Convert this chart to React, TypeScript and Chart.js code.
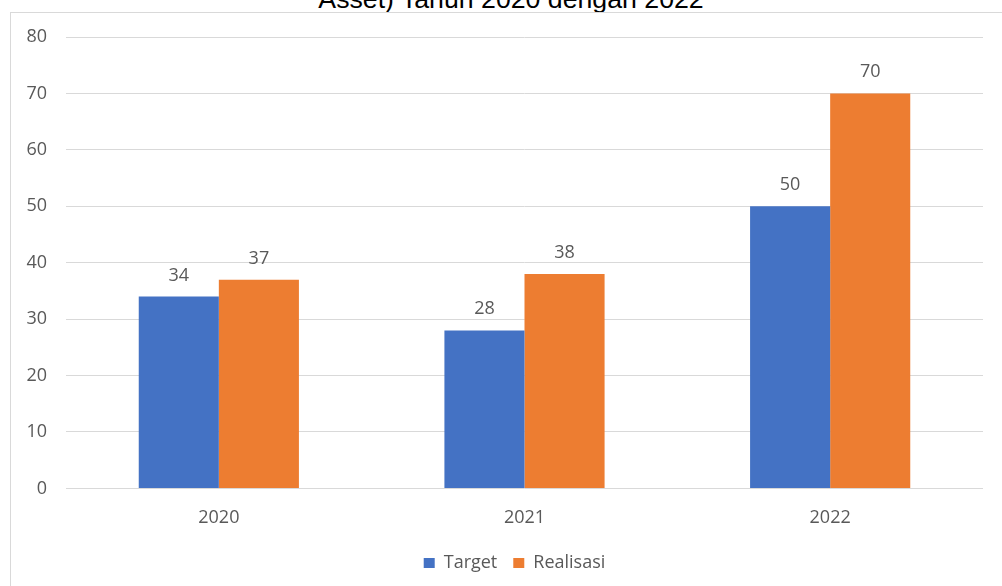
import React, { useEffect, useRef } from "react";
import { Chart, registerables } from "chart.js";

Chart.register(...registerables);

const categories = ["2020", "2021", "2022"];
const targetValues = [34, 28, 50];
const realisasiValues = [37, 38, 70];
const seriesNames = ["Target", "Realisasi"];
const titleText = "Asset) Tahun 2020 dengan 2022";

const FONT = "'Open Sans', 'Noto Sans', sans-serif";
const TEXT = "#595959";

const valueLabels = {
  id: "valueLabels",
  afterDatasetsDraw(chart: any) {
    const ctx = chart.ctx;
    ctx.save();
    ctx.font = `18px ${FONT}`;
    ctx.fillStyle = TEXT;
    ctx.textAlign = "center";
    ctx.textBaseline = "alphabetic";
    chart.data.datasets.forEach((ds: any, i: number) => {
      const meta = chart.getDatasetMeta(i);
      meta.data.forEach((bar: any, j: number) => {
        ctx.fillText(String(ds.data[j]), bar.x, bar.y - 16);
      });
    });
    ctx.restore();
  },
};

const legendShift = {
  id: "legendShift",
  afterLayout(chart: any) {
    const lg = chart.legend;
    if (!lg) return;
    lg.left -= 10;
    lg.right -= 10;
  },
};

export default function App() {
  const ref = useRef<HTMLCanvasElement | null>(null);

  useEffect(() => {
    if (!ref.current) return;
    const chart = new Chart(ref.current, {
      type: "bar",
      data: {
        labels: categories,
        datasets: [
          {
            label: seriesNames[0],
            data: targetValues,
            backgroundColor: "#4472C4",
            barPercentage: 1,
            categoryPercentage: 0.524,
          },
          {
            label: seriesNames[1],
            data: realisasiValues,
            backgroundColor: "#ED7D31",
            barPercentage: 1,
            categoryPercentage: 0.524,
          },
        ],
      },
      options: {
        animation: false,
        responsive: false,
        devicePixelRatio: 1,
        layout: { padding: { top: 37, right: 19, left: 0, bottom: 4 } },
        plugins: {
          title: { display: false },
          tooltip: { enabled: false },
          legend: {
            position: "bottom",
            fullSize: false,
            labels: {
              boxWidth: 11,
              boxHeight: 10,
              padding: 16,
              color: TEXT,
              font: { family: FONT, size: 18 },
            },
          },
        },
        scales: {
          x: {
            afterFit: (scale: any) => {
              scale.height = scale.height - 2;
            },
            grid: { display: false },
            border: { display: false },
            ticks: {
              color: TEXT,
              font: { family: FONT, size: 18 },
              padding: 11,
            },
          },
          y: {
            min: 0,
            max: 80,
            afterFit: (scale: any) => {
              scale.width = 66;
            },
            grid: { color: "#D9D9D9", drawTicks: false },
            border: { display: false },
            ticks: {
              stepSize: 10,
              color: TEXT,
              font: { family: FONT, size: 18 },
              padding: 19,
            },
          },
        },
      },
      plugins: [valueLabels, legendShift],
    });
    return () => chart.destroy();
  }, []);

  return (
    <div
      style={{
        position: "absolute",
        left: 0,
        top: 0,
        width: 1002,
        height: 586,
        overflow: "hidden",
        background: "#fff",
      }}
    >
      <div
        style={{
          position: "absolute",
          left: 0,
          width: 1002,
          top: -14,
          textAlign: "center",
          fontFamily: "'Liberation Sans', Arial, sans-serif",
          fontSize: 26.7,
          lineHeight: 1,
          color: "#000",
          whiteSpace: "nowrap",
          paddingLeft: 20,
          boxSizing: "border-box",
        }}
      >
        {titleText}
      </div>
      <div
        style={{
          position: "absolute",
          left: 10,
          top: 12,
          width: 1100,
          height: 700,
          borderLeft: "1px solid #D9D9D9",
          borderTop: "1px solid #D9D9D9",
        }}
      />
      <canvas
        ref={ref}
        width={1002}
        height={586}
        style={{ position: "absolute", left: 0, top: 0, width: 1002, height: 586 }}
      />
    </div>
  );
}
